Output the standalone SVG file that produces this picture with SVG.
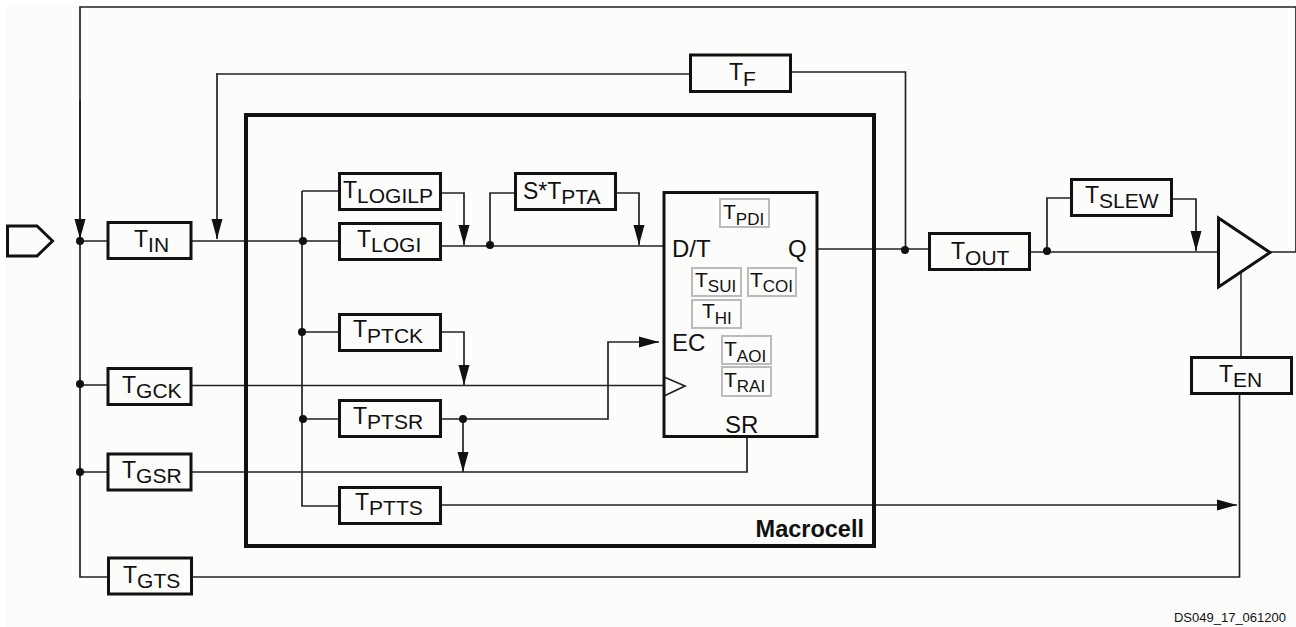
<svg xmlns="http://www.w3.org/2000/svg" width="1296" height="627" viewBox="0 0 1296 627">
<style>
text{font-family:"Liberation Sans",Arial,sans-serif;fill:#111}
.t{font-size:23px}.t tspan{font-size:21px}
.s{font-size:21px}.s tspan{font-size:17px}
.l{font-size:24px}
.b{fill:none;stroke:#111;stroke-width:3}
.g{fill:none;stroke:#bbb;stroke-width:2}
.c{fill:none;stroke:#222;stroke-width:1.700}
.a{fill:none;stroke:#222;stroke-width:1.700;marker-end:url(#ah)}
.d{fill:#111}
</style>
<defs><marker id="ah" markerUnits="userSpaceOnUse" markerWidth="20" markerHeight="12" refX="20" refY="6" orient="auto"><path d="M0 0.500L20 6L0 11.500Z" fill="#111"/></marker></defs>
<rect x="0" y="0" width="1296" height="627" fill="#fff"/>
<rect x="6" y="6" width="1290" height="621" fill="#fcfcfa"/>
<g id="connectors">
<path class="c" d="M80 241V577H108M80 241H108M80 385H108M80 472H108"/>
<path class="c" d="M1270 252H1296V7H80V241"/>
<path class="a" d="M80 100V239"/>
<path class="a" d="M217 73V239"/>
<path class="c" d="M217 74H690M791 72H905.500V250M817 249H929"/>
<path class="c" d="M191 241H339M302 191H339V191M302 191V506H339M302 332H339M302 419H339"/>
<path class="a" d="M440 193H464V245"/>
<path class="c" d="M440 246H664"/>
<path class="c" d="M490 245V193H515"/>
<path class="a" d="M616 193H639V245"/>
<path class="a" d="M440 332H464V385"/>
<path class="c" d="M191 385.500H664"/>
<path class="a" d="M440 419H608V342H659"/>
<path class="a" d="M463 419V472"/>
<path class="c" d="M191 472H747V436"/>
<path class="a" d="M440 505H1237"/>
<path class="c" d="M191 577H1239.500V393"/>
<path class="c" style="stroke:#555;stroke-width:2" d="M1241 272V357"/>
<path class="c" d="M1029 252H1218M1047 251V198H1071"/>
<path class="a" d="M1171 199H1196V251"/>
<path class="c" d="M664 377L685 386L664 396"/>
<circle class="d" cx="80" cy="241" r="4"/><circle class="d" cx="80" cy="384" r="4"/><circle class="d" cx="80" cy="472" r="4"/>
<circle class="d" cx="303" cy="241" r="4"/><circle class="d" cx="302" cy="332" r="4"/><circle class="d" cx="303" cy="419" r="4"/>
<circle class="d" cx="463" cy="419" r="4"/><circle class="d" cx="490" cy="245" r="4"/><circle class="d" cx="905" cy="250" r="4"/><circle class="d" cx="1047" cy="251" r="4"/>
</g>
<g id="input"><path d="M7.500 226H37L52.500 241L37 256H7.500Z" fill="none" stroke="#111" stroke-width="3"/></g>
<g id="macrocell"><rect x="246" y="115" width="628" height="431" fill="none" stroke="#111" stroke-width="4"/><text x="864" y="537" text-anchor="end" font-size="23.500" font-weight="bold">Macrocell</text></g>
<g id="ff"><rect x="664" y="192.500" width="153" height="244" fill="none" stroke="#111" stroke-width="3"/>
<text class="l" x="672" y="257">D/T</text><text class="l" x="788" y="257">Q</text><text class="l" x="672" y="351">EC</text><text class="l" x="725" y="433">SR</text></g>
<g id="tin"><rect class="b" x="108" y="222.500" width="83" height="36"/><text class="t" x="134" y="247">T<tspan dy="5">IN</tspan></text></g>
<g id="tgck"><rect class="b" x="108" y="368.500" width="83" height="36"/><text class="t" x="122" y="393">T<tspan dy="5">GCK</tspan></text></g>
<g id="tgsr"><rect class="b" x="108" y="454" width="83" height="36"/><text class="t" x="122" y="478">T<tspan dy="5">GSR</tspan></text></g>
<g id="tgts"><rect class="b" x="108.500" y="558" width="83" height="36"/><text class="t" x="123" y="583">T<tspan dy="5">GTS</tspan></text></g>
<g id="tlogilp"><rect class="b" x="339.500" y="173.500" width="101" height="36"/><text class="t" x="343" y="198">T<tspan dy="5">LOGILP</tspan></text></g>
<g id="tlogi"><rect class="b" x="339.500" y="223.500" width="101" height="36"/><text class="t" x="357" y="247">T<tspan dy="5">LOGI</tspan></text></g>
<g id="tptck"><rect class="b" x="339.500" y="314.500" width="101" height="36"/><text class="t" x="353" y="337">T<tspan dy="6">PTCK</tspan></text></g>
<g id="tptsr"><rect class="b" x="339.500" y="400.500" width="101" height="36"/><text class="t" x="353" y="424">T<tspan dy="5">PTSR</tspan></text></g>
<g id="tptts"><rect class="b" x="339.500" y="487.500" width="101" height="36"/><text class="t" x="355" y="510">T<tspan dy="5">PTTS</tspan></text></g>
<g id="stpta"><rect class="b" x="515.500" y="173.500" width="100" height="36"/><text class="t" x="523" y="199">S*T<tspan dy="5">PTA</tspan></text></g>
<g id="tf"><rect class="b" x="690.500" y="55" width="100" height="36.500"/><text class="t" x="729" y="80">T<tspan dy="6">F</tspan></text></g>
<g id="tout"><rect class="b" x="929.500" y="233.500" width="100" height="36"/><text class="t" x="951" y="259">T<tspan dy="6">OUT</tspan></text></g>
<g id="tslew"><rect class="b" x="1071.500" y="179.500" width="100" height="36"/><text class="t" x="1085" y="203">T<tspan dy="5">SLEW</tspan></text></g>
<g id="ten"><rect class="b" x="1191.500" y="357.500" width="100" height="36"/><text class="t" x="1219" y="382">T<tspan dy="5">EN</tspan></text></g>
<g id="buffer"><path d="M1218.500 218L1270 252.500L1218.500 287Z" fill="none" stroke="#111" stroke-width="3"/></g>
<g id="tpdi"><rect class="g" x="720" y="199" width="49" height="28"/><text class="s" x="723" y="219">T<tspan dy="6">PDI</tspan></text></g>
<g id="tsui"><rect class="g" x="692" y="268" width="49" height="28"/><text class="s" x="695" y="287">T<tspan dy="5">SUI</tspan></text></g>
<g id="tcoi"><rect class="g" x="748" y="268" width="48" height="28"/><text class="s" x="750" y="287">T<tspan dy="5">COI</tspan></text></g>
<g id="thi"><rect class="g" x="692" y="300" width="49" height="28"/><text class="s" x="702" y="318">T<tspan dy="6">HI</tspan></text></g>
<g id="taoi"><rect class="g" x="722" y="336" width="49" height="28"/><text class="s" x="724" y="356">T<tspan dy="6">AOI</tspan></text></g>
<g id="trai"><rect class="g" x="722" y="367" width="49" height="29"/><text class="s" x="724" y="387">T<tspan dy="5">RAI</tspan></text></g>
<text x="1286" y="622" text-anchor="end" font-size="13">DS049_17_061200</text>
</svg>
